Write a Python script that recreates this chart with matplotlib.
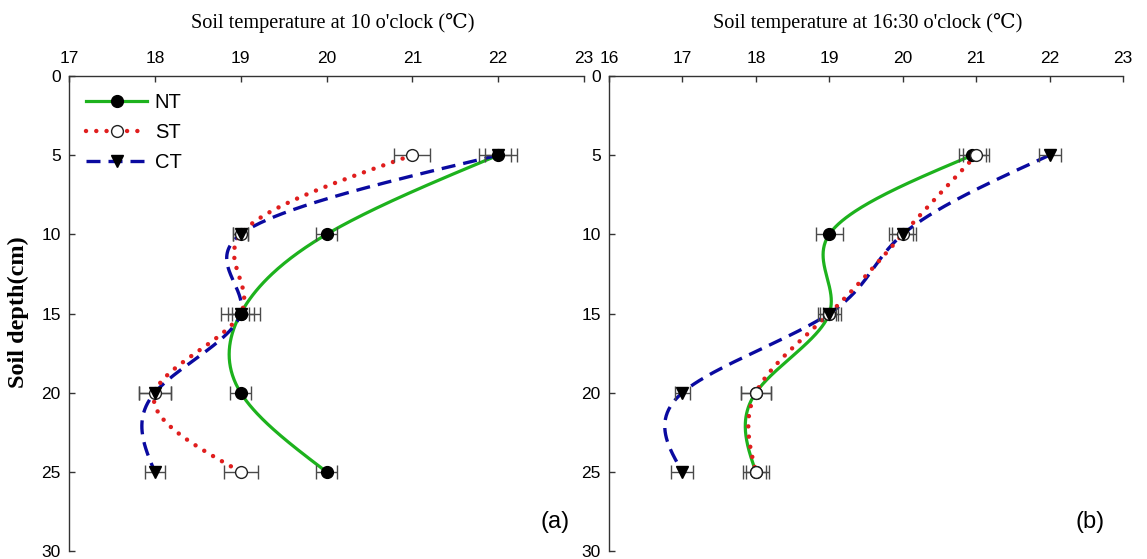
import numpy as np
import matplotlib
matplotlib.use("Agg")
import matplotlib.pyplot as plt
from matplotlib.lines import Line2D

# ---------------- data ----------------
depth = [5, 10, 15, 20, 25]

# (a) 10 o'clock
a_NT = [22, 20, 19, 19, 20]
a_ST = [21, 19, 19, 18, 19]
a_CT = [22, 19, 19, 18, 18]
a_NT_err = [0.22, 0.12, 0.23, 0.12, 0.12]
a_ST_err = [0.21, 0.09, 0.15, 0.19, 0.20]
a_CT_err = [0.15, 0.09, 0.10, 0.19, 0.12]

# (b) 16:30 o'clock
b_NT = [20.95, 19, 19, 18, 18]
b_ST = [21, 20, 19, 18, 18]
b_CT = [22, 20, 19, 17, 17]
b_NT_err = [0.18, 0.18, 0.16, 0.20, 0.18]
b_ST_err = [0.18, 0.18, 0.12, 0.20, 0.14]
b_CT_err = [0.15, 0.14, 0.09, 0.10, 0.15]

xticks_a = [17, 18, 19, 20, 21, 22, 23]
xticks_b = [16, 17, 18, 19, 20, 21, 22, 23]
yticks = [0, 5, 10, 15, 20, 25, 30]

title_a = "Soil temperature at 10 o'clock (\u2103)"
title_b = "Soil temperature at 16:30 o'clock (\u2103)"
ylabel = "Soil depth(cm)"
series_names = ["NT", "ST", "CT"]

# ---------------- helpers ----------------
def natural_spline(t, y, tt):
    t = np.asarray(t, float); y = np.asarray(y, float)
    n = len(t)
    h = np.diff(t)
    A = np.zeros((n, n)); r = np.zeros(n)
    A[0, 0] = 1; A[-1, -1] = 1
    for i in range(1, n - 1):
        A[i, i - 1] = h[i - 1]
        A[i, i] = 2 * (h[i - 1] + h[i])
        A[i, i + 1] = h[i]
        r[i] = 6 * ((y[i + 1] - y[i]) / h[i] - (y[i] - y[i - 1]) / h[i - 1])
    M = np.linalg.solve(A, r)
    out = np.empty_like(tt)
    for k, x in enumerate(tt):
        i = min(max(np.searchsorted(t, x) - 1, 0), n - 2)
        a = (t[i + 1] - x) / h[i]; b = (x - t[i]) / h[i]
        out[k] = (a * y[i] + b * y[i + 1]
                  + ((a ** 3 - a) * M[i] + (b ** 3 - b) * M[i + 1]) * h[i] ** 2 / 6)
    return out

GREEN = "#1db21d"
RED = "#e01e1e"
BLUE = "#0a0aa0"
ERRC = "#4a4a4a"

styles = {
    "NT": dict(color=GREEN, ls="-", lw=2.3, marker="o", mfc="black", mec="black", ms=8.5),
    "ST": dict(color=RED, ls=(0, (0.01, 2.3)), lw=3.2, marker="o", mfc="white", mec="#222222", ms=8.5),
    "CT": dict(color=BLUE, ls=(0, (4.2, 2.4)), lw=2.4, marker="v", mfc="black", mec="black", ms=8.5),
}

fig = plt.figure(figsize=(11.47, 5.59), dpi=100)
W, H = 1147, 559
top_px, bot_px = 76, 551
axa = fig.add_axes([69 / W, 1 - bot_px / H, (584 - 69) / W, (bot_px - top_px) / H])
axb = fig.add_axes([609 / W, 1 - bot_px / H, (1123 - 609) / W, (bot_px - top_px) / H])

def draw(ax, data, errs, xt, marker_order):
    dd = np.linspace(depth[0], depth[-1], 300)
    for name in ["NT", "CT", "ST"]:
        st = styles[name]
        xs = natural_spline(depth, data[name], dd)
        ln, = ax.plot(xs, dd, color=st["color"], ls=st["ls"], lw=st["lw"], zorder=2)
        if name == "ST":
            ln.set_dash_capstyle("round")
    for name in ["NT", "ST", "CT"]:
        ax.errorbar(data[name], depth, xerr=errs[name], fmt="none", ecolor=ERRC,
                    elinewidth=1.0, capsize=5, capthick=1.0, zorder=3)
    for name in marker_order:
        st = styles[name]
        ax.plot(data[name], depth, ls="none", marker=st["marker"], ms=st["ms"],
                mfc=st["mfc"], mec=st["mec"], mew=1.0, zorder=4)
    ax.set_xlim(xt[0], xt[-1])
    ax.set_ylim(30, 0)
    ax.set_xticks(xt)
    ax.set_yticks(yticks)
    ax.xaxis.tick_top()
    for s in ["right", "bottom"]:
        ax.spines[s].set_visible(False)
    for s in ["top", "left"]:
        ax.spines[s].set_color("#333333")
        ax.spines[s].set_linewidth(1.0)
    ax.tick_params(axis="x", direction="in", length=4, width=1, color="#333333",
                   pad=7, labelsize=12.5)
    ax.tick_params(axis="y", direction="in", length=4, width=1, color="#333333",
                   pad=6, labelsize=12.5)
    for lab in ax.get_xticklabels() + ax.get_yticklabels():
        lab.set_fontfamily("Liberation Sans")

draw(axa, {"NT": a_NT, "ST": a_ST, "CT": a_CT},
     {"NT": a_NT_err, "ST": a_ST_err, "CT": a_CT_err}, xticks_a, ["ST", "CT", "NT"])
draw(axb, {"NT": b_NT, "ST": b_ST, "CT": b_CT},
     {"NT": b_NT_err, "ST": b_ST_err, "CT": b_CT_err}, xticks_b, ["NT", "ST", "CT"])

# legend
handles = []
for name in series_names:
    st = styles[name]
    h = Line2D([], [], color=st["color"], ls=st["ls"], lw=st["lw"], marker=st["marker"],
               ms=st["ms"], mfc=st["mfc"], mec=st["mec"])
    if name == "ST":
        h.set_dash_capstyle("round")
    handles.append(h)
leg = axa.legend(handles, series_names, loc="upper left", bbox_to_anchor=(0.018, 0.982),
                 frameon=False, prop={"family": "Liberation Sans", "size": 14.5},
                 handlelength=3.0, handletextpad=0.4, labelspacing=0.55,
                 borderaxespad=0, numpoints=1)

# titles
serif = ["Liberation Serif", "DejaVu Serif"]
fig.text(333 / W, 1 - 23 / H, title_a, ha="center", va="center", family=serif, fontsize=14.6)
fig.text(868 / W, 1 - 23 / H, title_b, ha="center", va="center", family=serif, fontsize=14.6)
fig.text(18 / W, 1 - 312 / H, ylabel, ha="center", va="center", rotation=90,
         family=serif, fontsize=17.5, fontweight="bold")

fig.text(555 / W, 1 - 522 / H, "(a)", ha="center", va="center", family="Liberation Sans", fontsize=17)
fig.text(1090 / W, 1 - 522 / H, "(b)", ha="center", va="center", family="Liberation Sans", fontsize=17)

fig.savefig("out.png", dpi=100)
